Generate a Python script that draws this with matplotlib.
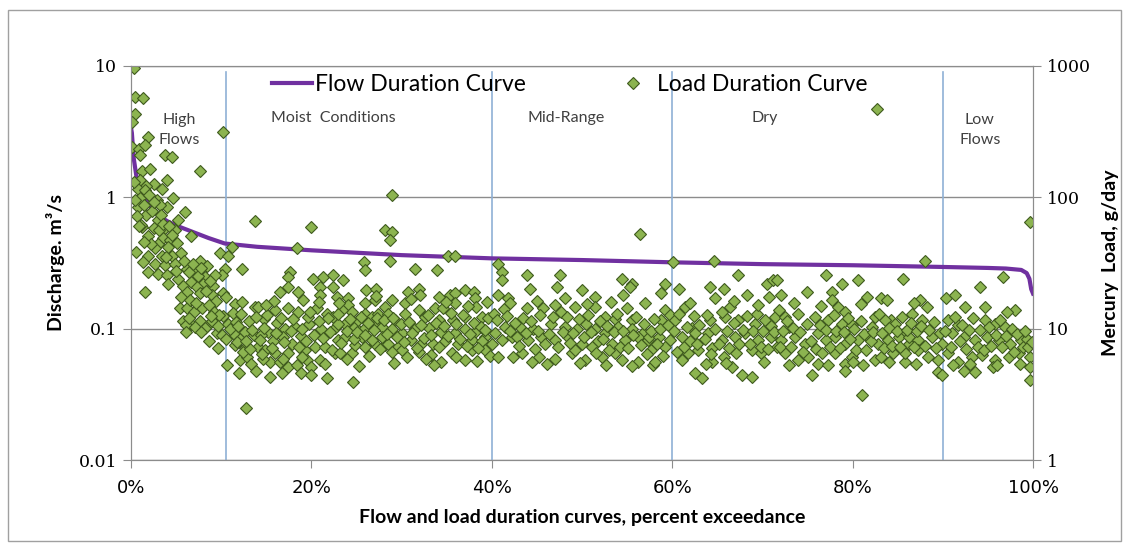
import matplotlib
matplotlib.use("Agg")
import matplotlib.pyplot as plt
from matplotlib.lines import Line2D
from matplotlib.patches import Rectangle
from matplotlib.ticker import FuncFormatter, NullLocator
import numpy as np

# flow duration curve: percent exceedance vs discharge (m3/s)
fdc_pct = [0, 0.1, 0.3, 0.6, 1.0, 1.5, 2.2, 3.0, 4.0, 5.0, 6.7, 8.6, 10.4, 14, 20, 30,
           40, 50, 60, 70, 80, 90, 95, 97, 98.7, 99.3, 99.6, 99.8, 100]
fdc_q = [3.4, 3.1, 2.0, 1.45, 1.2, 1.0, 0.85, 0.73, 0.66, 0.61, 0.55, 0.49, 0.445, 0.42,
         0.395, 0.363, 0.343, 0.333, 0.32, 0.31, 0.304, 0.295, 0.29, 0.287, 0.28, 0.265,
         0.24, 0.2, 0.185]

# load duration curve samples (percent exceedance, mercury load g/day), by flow zone
high_flows = [
    (0.37, 970), (0.44, 580), (1.36, 570), (0.44, 433), (0.08, 374), (10.2, 314), (1.9, 288),
    (0.08, 241), (0.85, 235), (1.6, 249), (1.0, 209), (3.8, 209), (4.5, 202), (7.65, 160),
    (1.2, 160), (2.1, 165), (4.0, 135), (1.0, 135), (2.5, 127), (1.7, 123), (0.8, 116),
    (1.55, 113), (3.4, 116), (4.7, 98), (1.0, 98), (2.85, 95), (0.8, 84), (4.0, 84), (3.2, 87),
    (6.0, 77), (1.7, 73), (5.2, 67), (3.0, 67), (1.2, 59.5), (2.5, 58), (3.8, 58), (4.9, 56),
    (6.7, 51), (1.9, 51), (3.6, 48.6), (4.3, 47), (3.0, 44), (0.6, 38.4), (2.7, 40.8), (4.1, 42),
    (1.9, 36), (3.4, 36), (4.5, 36), (9.9, 37.5), (7.65, 33), (8.4, 30), (1.36, 32), (2.66, 31.3),
    (3.77, 30.4), (4.88, 31.3), (6.2, 28.6), (7.3, 27.8), (10.4, 28.6), (10.05, 25.5), (1.9, 27),
    (3.0, 26.3), (4.0, 25.5), (8.2, 24.8), (9.3, 25.5), (5.2, 24), (6.7, 22.7), (8.0, 22),
    (4.1, 22), (5.8, 21.3), (7.3, 20.8), (9.1, 21.3), (1.55, 19.1), (6.2, 19.1), (7.65, 18.6),
    (9.0, 18), (10.2, 18.6), (5.4, 14.3), (6.2, 14.3), (7.0, 13.5), (7.9, 14.3), (9.2, 13.5),
    (5.8, 11.5), (6.7, 10.8), (7.6, 11.5), (8.4, 10.5), (9.0, 11.5), (10.2, 12.5), (6.1, 10.6),
    (7.1, 10.3), (6.1, 9.5), (8.2, 10.1), (9.5, 9.2), (8.6, 8), (9.6, 7.1),
    (0.3, 130), (0.5, 95), (0.7, 72), (1.1, 62), (1.4, 88), (2.0, 105), (2.3, 78), (2.6, 92),
    (3.1, 56), (3.3, 74), (3.6, 63), (4.2, 61), (4.6, 52), (5.1, 45), (5.5, 38), (5.9, 33),
    (6.4, 27), (6.9, 31), (7.4, 25), (7.8, 29), (8.3, 19.5), (8.8, 23), (9.4, 16.2), (9.8, 12.8),
    (5.6, 17.5), (6.5, 16.4), (7.2, 15.6), (8.7, 15.2), (9.7, 10.4), (10.1, 9.0), (6.4, 12.1),
    (7.8, 9.4), (8.9, 12.4), (2.2, 44), (1.4, 46), (0.9, 61), (3.9, 35), (5.0, 27.5),
]
moist = [
    (10.8, 36), (11.2, 42), (12.3, 28.6), (10.5, 17.5), (11.5, 15.5), (12.3, 16), (13.7, 14.6),
    (10.8, 10.8), (11.6, 11.2), (10.5, 8.4), (11.5, 8.9), (12.1, 8.4), (12.6, 9.5), (11.5, 7.5),
    (12.6, 7.1), (10.6, 5.3), (12.1, 5.8), (12.9, 6.1), (12.8, 2.47), (13.7, 66), (20.0, 59.5),
    (28.2, 56), (28.9, 54), (28.7, 47), (28.7, 33), (28.9, 104), (18.4, 40.8), (25.8, 32),
    (25.9, 28), (17.6, 27), (17.4, 24.8), (20.2, 24), (21.3, 24.8), (22.4, 25.5), (23.5, 23.4),
    (16.5, 19.1), (17.4, 20.8), (18.5, 19.1), (21.0, 20.8), (22.4, 20.8), (21.0, 18), (22.8, 17.5),
    (24.1, 17), (26.1, 19.6), (27.2, 20.2), (14.1, 14.6), (16.0, 13.8), (17.4, 14.3), (18.5, 13.5),
    (20.6, 14.3), (21.7, 13.0), (22.4, 12.3), (24.1, 15.1), (24.5, 13.5), (25.9, 15.6),
    (27.1, 16.5), (28.2, 14.6), (15.2, 9.5), (17.1, 10), (18.2, 10.3), (19.7, 10.9), (21.1, 10),
    (22.6, 10.1), (23.7, 10.9), (24.8, 10.3), (25.9, 10.1), (27.1, 10.9), (27.8, 10.3),
    (14.1, 7.3), (14.9, 6.9), (16.0, 6.5), (17.4, 6.5), (19.3, 6.9), (20.4, 7.3), (21.5, 7.3),
    (22.6, 6.5), (24.5, 6.5), (24.8, 7.5), (25.9, 7.3), (27.1, 7.7), (28.2, 7.5), (15.4, 5.6),
    (16.5, 5.6), (17.4, 5.1), (18.4, 5.3), (19.5, 5.8), (20.0, 5.1), (21.0, 5.8), (15.4, 4.3),
    (16.7, 4.6), (18.9, 4.6), (20.0, 4.4), (21.7, 4.2), (24.6, 3.9), (22.3, 6.9), (23.0, 8.2),
    (23.7, 8.7), (23.2, 6.5), (25.2, 11.6), (25.9, 13), (26.7, 12.3), (27.4, 13), (27.8, 8.7),
    (26.7, 8.2), (25.6, 8.7), (23.4, 13.8), (23.0, 10.9), (11.0, 9.9), (11.8, 7.9), (12.4, 6.6),
    (13.3, 5.4), (13.6, 8.9), (13.1, 11.4), (14.4, 9.0), (14.8, 11.8), (13.9, 4.8), (14.6, 5.9),
    (12.0, 4.6), (13.2, 7.0), (15.7, 8.1), (16.2, 11.0), (16.8, 8.6), (17.9, 7.6), (18.8, 8.8),
    (19.6, 12.2), (15.9, 16.2),
    (35.2, 36), (35.9, 36), (31.5, 28.3), (33.9, 27.8), (30.7, 19.1), (31.9, 20.2), (32.0, 18),
    (34.1, 17.5), (35.4, 18), (35.9, 18.6), (37.0, 19.6), (38.0, 19.1), (38.1, 17), (28.9, 16.5),
    (30.4, 15.6), (33.7, 14.3), (34.6, 14.3), (35.9, 15.6), (38.3, 14.6), (28.5, 13), (29.3, 11.6),
    (30.4, 13), (31.9, 13.8), (32.6, 12.3), (34.1, 11.6), (35.7, 11.6), (37.0, 12.3), (38.9, 12.3),
    (28.9, 10), (30.0, 9.2), (31.5, 10), (33.0, 10.1), (34.4, 9.5), (35.9, 9.2), (37.0, 10),
    (38.1, 9.5), (39.2, 8.7), (28.5, 7.7), (29.6, 7.3), (31.1, 8.2), (32.2, 7.7), (33.5, 7.7),
    (34.8, 8.0), (36.3, 7.7), (37.8, 8.2), (38.9, 8.0), (28.9, 6.7), (30.0, 6.9), (31.9, 6.7),
    (33.3, 6.3), (34.4, 5.6), (35.6, 6.5), (37.0, 5.8), (37.8, 6.9), (39.2, 6.9),
    (11.3, 13.2), (11.9, 10.4), (12.2, 12.9), (12.8, 8.1), (13.4, 9.8), (13.9, 12.2), (14.3, 8.2),
    (14.7, 10.1), (15.1, 12.6), (15.6, 7.1), (16.1, 9.3), (16.6, 12.1), (17.0, 7.9), (17.7, 9.6),
    (18.0, 11.8), (18.6, 7.2), (19.0, 9.9), (19.4, 8.1), (19.9, 13.4), (20.3, 9.0), (20.8, 11.5),
    (21.3, 8.5), (21.8, 12.0), (22.1, 9.4), (22.9, 12.9), (23.3, 7.8), (23.9, 9.6), (24.3, 11.8),
    (24.7, 8.4), (25.1, 9.5), (25.5, 12.2), (26.0, 9.0), (26.3, 11.0), (26.9, 9.7), (27.3, 12.0),
    (27.6, 7.0), (28.0, 11.6), (28.4, 9.1), (29.0, 12.1), (29.5, 8.6), (29.9, 10.8), (30.3, 7.9),
    (30.8, 11.2), (31.2, 9.3), (31.7, 7.1), (32.1, 10.6), (32.5, 8.5), (32.9, 12.8), (33.3, 9.0),
    (33.8, 11.0), (34.2, 7.3), (34.7, 10.4), (35.1, 8.8), (35.5, 13.2), (36.0, 10.8), (36.5, 8.4),
    (36.8, 12.7), (37.3, 7.4), (37.6, 9.1), (38.0, 11.1), (38.5, 7.1), (38.8, 10.3), (39.3, 9.7),
    (39.6, 12.0), (39.8, 6.2), (30.6, 6.1), (32.7, 5.9), (36.0, 6.1), (38.4, 5.7), (26.4, 6.2),
    (23.9, 5.9), (19.0, 6.1), (16.9, 5.9), (14.5, 6.4), (29.2, 5.5), (33.6, 5.3), (25.3, 5.2),
    (21.5, 5.4), (27.2, 17.8), (31.0, 16.7), (34.9, 15.9), (37.4, 14.9), (39.5, 16.0),
    (15.0, 15.2), (19.1, 16.4), (23.1, 15.6), (20.9, 16.0),
]
mid_range = [
    (40.7, 31.3), (41.1, 27), (41.1, 23.4), (40.7, 18), (41.8, 17), (40.4, 9.2), (41.5, 10.3),
    (40.0, 7.7), (41.1, 8.2), (42.2, 8.7), (40.7, 6.1), (42.4, 6.1), (56.4, 53), (43.9, 25.5),
    (44.2, 20.2), (47.6, 25.5), (47.2, 20.8), (50.0, 19.6), (54.4, 24), (55.5, 22), (54.6, 18),
    (55.3, 20.8), (48.1, 17), (51.4, 17.5), (47.0, 15.1), (43.9, 14.3), (45.7, 14.3), (47.7, 13.5),
    (49.2, 14.6), (51.4, 14.6), (52.5, 12.3), (53.7, 11.9), (55.0, 14.3), (55.5, 11.6),
    (43.1, 10.3), (44.6, 10), (46.6, 10.9), (48.1, 10.3), (49.4, 10), (50.5, 10.9), (51.4, 10),
    (52.5, 9.2), (54.0, 10.3), (55.5, 10), (56.8, 9.2), (42.8, 8.7), (44.0, 8.2), (45.5, 8.7),
    (47.0, 8.2), (48.5, 8.7), (50.0, 7.7), (51.8, 8.0), (53.3, 7.7), (54.8, 8.2), (56.2, 8.7),
    (57.3, 8.2), (43.3, 6.5), (45.2, 6.1), (47.0, 5.9), (48.9, 6.5), (50.3, 5.8), (52.2, 6.1),
    (53.7, 6.5), (54.4, 5.8), (56.2, 5.6), (49.2, 6.9), (51.1, 7.3), (57.4, 8.7), (58.5, 8.7),
    (59.8, 8.2), (57.7, 6.9), (59.2, 7.3), (57.9, 5.3), (58.8, 18.6), (59.2, 22), (59.2, 13.8),
    (58.8, 11.6),
    (40.2, 13.0), (40.6, 11.6), (41.3, 14.1), (41.7, 12.4), (42.0, 9.6), (42.6, 11.0), (43.0, 7.4),
    (43.5, 12.0), (43.8, 9.3), (44.3, 11.5), (44.8, 7.0), (45.1, 9.6), (45.4, 12.6), (45.9, 7.6),
    (46.3, 9.1), (46.8, 12.2), (47.3, 7.2), (47.9, 9.4), (48.3, 12.3), (48.7, 7.8), (49.0, 9.2),
    (49.7, 11.9), (50.2, 8.6), (50.7, 12.6), (51.0, 9.4), (51.5, 6.5), (52.0, 11.4), (52.3, 8.3),
    (52.8, 10.4), (53.0, 6.9), (53.5, 9.4), (53.9, 13.0), (54.2, 7.3), (54.6, 9.6), (55.1, 7.1),
    (55.7, 8.9), (56.0, 12.2), (56.5, 7.5), (56.9, 10.8), (57.2, 6.4), (57.6, 9.6), (58.0, 11.9),
    (58.3, 7.6), (58.7, 9.9), (59.0, 6.2), (59.5, 10.6), (59.8, 12.8), (44.5, 5.6), (46.1, 5.4),
    (49.8, 5.5), (52.7, 5.3), (55.6, 5.2), (58.1, 5.6), (42.0, 15.6), (45.0, 16.2), (50.6, 15.3),
    (53.2, 16.0), (57.0, 15.6),
]
dry = [
    (60.1, 32), (64.6, 33), (67.3, 25.5), (60.7, 20.2), (64.2, 20.8), (65.7, 20.2), (68.3, 18),
    (70.5, 22), (71.2, 23.4), (61.4, 14.6), (64.7, 17), (66.4, 14.6), (70.7, 17.5), (60.3, 11.6),
    (62.2, 10.1), (64.2, 11.6), (65.9, 12.3), (67.3, 11.6), (69.2, 10.9), (70.3, 11.6),
    (71.4, 12.3), (61.1, 8.7), (62.5, 9.2), (64.0, 9.2), (65.5, 8.2), (67.0, 8.7), (68.1, 9.2),
    (69.5, 8.2), (71.0, 8.7), (60.5, 6.7), (61.8, 6.5), (62.9, 6.9), (64.4, 7.1), (65.7, 6.1),
    (67.1, 6.5), (68.8, 6.9), (69.9, 6.5), (71.6, 7.3), (61.1, 5.8), (62.5, 4.6), (63.3, 4.2),
    (64.4, 5.6), (67.7, 4.4), (68.8, 4.3), (66.6, 5.1), (77.0, 25.5), (78.8, 22), (80.6, 23.4),
    (85.6, 24), (74.9, 19.1), (77.7, 19.1), (81.6, 17.5), (83.2, 17), (83.8, 16.5), (71.6, 23.4),
    (72.1, 18), (77.7, 16.5), (78.4, 14.6), (79.2, 13.5), (82.5, 12.3), (84.3, 11.6), (85.8, 9.5),
    (71.8, 13.8), (72.5, 12.3), (72.9, 10.3), (75.8, 12.3), (77.3, 11.6), (78.8, 10.9),
    (79.9, 10.6), (82.1, 10.3), (83.6, 11.6), (84.7, 10.9), (72.1, 8.2), (73.6, 8.7), (74.7, 7.7),
    (76.2, 9.2), (77.0, 8.2), (78.0, 8.7), (79.2, 7.7), (80.6, 8.2), (81.7, 8.7), (82.8, 7.7),
    (83.9, 8.2), (85.1, 8.7), (86.2, 7.7), (72.5, 6.5), (74.0, 5.8), (75.1, 6.1), (76.2, 5.4),
    (78.0, 6.5), (79.2, 5.4), (79.9, 6.1), (81.2, 5.3), (82.5, 5.8), (83.2, 6.1), (84.5, 6.5),
    (85.8, 5.6), (75.5, 4.4), (79.2, 4.8), (81.0, 3.1), (82.7, 473), (88.0, 33), (87.5, 16.5),
    (88.2, 14.6), (87.7, 11.6), (86.6, 13), (86.2, 8.7), (87.3, 8.2), (88.8, 8.7), (89.9, 7.7),
    (85.8, 6.5), (87.3, 6.9), (88.4, 6.1), (89.5, 5.8), (89.5, 4.7), (89.9, 4.4),
    (60.2, 9.6), (60.8, 12.9), (61.3, 7.3), (61.6, 10.3), (62.0, 8.0), (62.4, 12.5), (62.8, 7.6),
    (63.0, 10.7), (63.6, 8.3), (63.9, 12.8), (64.3, 6.4), (64.8, 10.0), (65.2, 7.6), (65.5, 13.4),
    (66.1, 9.6), (66.3, 7.1), (66.8, 11.0), (67.4, 7.6), (67.8, 9.8), (68.3, 12.5), (68.6, 7.7),
    (69.0, 9.6), (69.4, 13.0), (69.8, 7.3), (70.1, 9.6), (70.6, 7.0), (70.9, 10.4), (71.3, 9.4),
    (71.9, 7.3), (72.3, 9.6), (72.7, 11.4), (73.2, 7.3), (73.4, 10.2), (73.9, 12.9), (74.2, 9.4),
    (74.5, 6.6), (75.0, 10.9), (75.4, 8.1), (75.9, 7.0), (76.4, 10.7), (76.6, 6.5), (77.1, 9.8),
    (77.5, 7.2), (77.9, 12.7), (78.2, 9.6), (78.6, 7.1), (79.0, 9.4), (79.5, 12.0), (79.7, 8.4),
    (80.2, 9.9), (80.4, 6.9), (80.9, 11.4), (81.3, 9.1), (81.5, 6.9), (82.0, 8.1), (82.3, 9.5),
    (82.9, 13.0), (83.3, 9.3), (83.5, 7.1), (84.0, 10.1), (84.4, 7.4), (84.9, 9.6), (85.3, 7.2),
    (85.5, 12.2), (86.0, 9.7), (86.5, 11.0), (86.8, 7.2), (87.1, 9.6), (87.6, 10.4), (88.0, 7.4),
    (88.5, 9.7), (89.0, 11.2), (89.3, 7.1), (89.7, 9.3), (63.7, 5.4), (66.0, 5.5), (70.2, 5.6),
    (73.0, 5.3), (77.3, 5.3), (80.0, 5.6), (84.0, 5.6), (87.0, 5.4), (62.0, 15.6), (66.9, 16.2),
    (69.5, 15.2), (73.5, 15.8), (76.5, 14.8), (80.9, 15.4), (86.8, 15.6),
]
low_flows = [
    (96.7, 24.8), (94.1, 20.8), (90.4, 17), (91.4, 18), (94.7, 14.6), (98.0, 13.8), (91.7, 10.6),
    (94.7, 11.6), (95.8, 10.9), (96.9, 10.3), (91.0, 9.2), (92.3, 8.7), (93.6, 8.2), (94.9, 8.7),
    (96.2, 8.2), (97.5, 7.7), (98.7, 8.2), (99.3, 8.4), (90.6, 6.5), (91.7, 5.6), (93.2, 6.1),
    (94.3, 6.3), (95.8, 5.8), (97.3, 6.1), (98.4, 6.5), (99.7, 6.1), (92.3, 4.8), (93.6, 4.7),
    (95.6, 5.1), (99.7, 5.1), (99.7, 4.1), (99.7, 65),
    (90.2, 9.6), (90.6, 11.6), (90.9, 7.2), (91.3, 12.3), (91.9, 8.0), (92.1, 10.6), (92.6, 7.0),
    (92.9, 9.8), (93.3, 12.0), (93.9, 7.3), (94.1, 9.7), (94.6, 6.9), (95.1, 10.3), (95.3, 7.4),
    (95.9, 9.0), (96.3, 11.6), (96.6, 7.2), (97.0, 8.8), (97.7, 10.0), (97.9, 6.7), (98.2, 9.1),
    (98.9, 7.2), (99.1, 9.6), (99.5, 7.3), (99.9, 7.9), (91.1, 5.3), (93.0, 5.4), (96.0, 5.3),
    (98.6, 5.4), (92.5, 14.6), (97.1, 13.4),
]

zone_bounds = [10.5, 40, 60, 90]
zone_names = [('High\nFlows', 5.4), ('Moist  Conditions', 22.4), ('Mid-Range', 48.2),
              ('Dry', 70.3), ('Low\nFlows', 94.1)]

ldc = np.array(high_flows + moist + mid_range + dry + low_flows)

grey = '#8c8c8c'
purple = '#7030A0'
txt = '#404040'
face = '#8cb450'
edge = '#3f5a1e'

fig = plt.figure(figsize=(11.27, 5.44), dpi=100)
ax = fig.add_axes([0.1162, 0.1544, 0.8004, 0.7243])
ax2 = ax.twinx()

ax.set_yscale('log')
ax.set_ylim(0.01, 10)
ax.set_xlim(0, 100)
ax2.set_yscale('log')
ax2.set_ylim(1, 1000)

ax.grid(axis='y', which='major', color=grey, lw=1)
for b in zone_bounds:
    ax.axvline(b, ymin=0, ymax=0.985, color='#8fb0d5', lw=1.2)

flow_line, = ax.plot(fdc_pct, fdc_q, color=purple, lw=3, zorder=3)
ax2.plot(ldc[:, 0], ldc[:, 1], ls='none', marker='D', ms=6.2,
         mfc=face, mec=edge, mew=0.8)

for name, xpos in zone_names:
    ypos = 0.837 if '\n' in name else 0.868
    ax.text(xpos, ypos, name, transform=ax.get_xaxis_transform(), ha='center', va='center',
            fontsize=11.5, color=txt, family='Lato', linespacing=1.5)

# ticks
ax.set_yticks([0.01, 0.1, 1, 10], ['0.01', '0.1', '1', '10'])
ax2.set_yticks([1, 10, 100, 1000], ['1', '10', '100', '1000'])
for a in (ax, ax2):
    a.yaxis.set_minor_locator(NullLocator())
    a.tick_params(axis='y', length=6, color=grey, labelsize=12.5, pad=4)
    for lab in a.get_yticklabels():
        lab.set_family('DejaVu Serif')
    for s in a.spines.values():
        s.set_color(grey)
ax.set_xticks([0, 20, 40, 60, 80, 100])
ax.xaxis.set_major_formatter(FuncFormatter(lambda v, p: f'{v:.0f}%'))
ax.tick_params(axis='x', length=6, color=grey, labelsize=13, pad=8)
for lab in ax.get_xticklabels():
    lab.set_family(['Liberation Sans Narrow', 'DejaVu Sans'])

ax.set_xlabel('Flow and load duration curves, percent exceedance', family='Lato',
              fontweight='bold', fontsize=14, labelpad=8)
ax.set_ylabel('Discharge. m³/s', family='Lato', fontweight='bold', fontsize=14, labelpad=10)
ax2.set_ylabel('Mercury  Load, g/day', family='Lato', fontweight='bold', fontsize=14,
               labelpad=8)

handles = [flow_line,
           Line2D([], [], ls='none', marker='D', ms=6, mfc=face, mec=edge, mew=0.8)]
ax2.legend(handles, ['Flow Duration Curve', 'Load Duration Curve'], loc='center left',
           bbox_to_anchor=(0.146, 0.954), ncol=2, frameon=False, handlelength=1.75,
           handletextpad=0.15, columnspacing=3.8, prop={'family': 'Lato', 'size': 16.5},
           borderaxespad=0)

fig.patches.append(Rectangle((0.007, 0.006), 0.988, 0.976, transform=fig.transFigure,
                             fill=False, ec='#a0a0a0', lw=1))

fig.savefig('out.png', dpi=100)
